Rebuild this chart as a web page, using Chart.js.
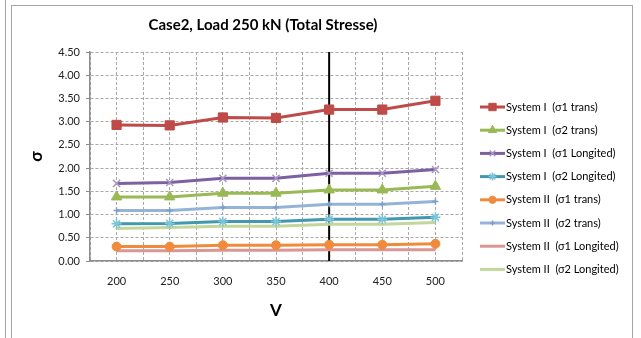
<!DOCTYPE html>
<html>
<head>
<meta charset="utf-8">
<script src="https://cdn.jsdelivr.net/npm/chart.js@4.4.1/dist/chart.umd.min.js"></script>
<style>
  html, body { margin: 0; padding: 0; background: #fff; }
  #wrap { position: relative; width: 641px; height: 338px; overflow: hidden; }
  #edge { position: absolute; left: 5px; top: 0; width: 1px; height: 338px; background: #a6a6a6; }
  #frame { position: absolute; left: 11px; top: 5px; width: 620px; height: 340px;
           border: 1px solid #a6a6a6; border-bottom: none; }
  canvas { position: absolute; left: 0; top: 0; }
</style>
</head>
<body>
<div id="wrap">
  <div id="edge"></div>
  <div id="frame"></div>
  <canvas id="stressChart" width="641" height="338"></canvas>
</div>
<script>
// x values (V)
const voltages = [200, 250, 300, 350, 400, 450, 500];

// stresses
const s1Sig1Trans = [2.93, 2.92, 3.09, 3.08, 3.26, 3.26, 3.45];
const s1Sig2Trans = [1.38, 1.38, 1.46, 1.46, 1.53, 1.53, 1.61];
const s1Sig1Long  = [1.67, 1.69, 1.78, 1.78, 1.89, 1.89, 1.97];
const s1Sig2Long  = [0.80, 0.81, 0.85, 0.85, 0.90, 0.90, 0.94];
const s2Sig1Trans = [0.31, 0.31, 0.34, 0.34, 0.35, 0.35, 0.37];
const s2Sig2Trans = [1.09, 1.09, 1.15, 1.15, 1.22, 1.22, 1.28];
const s2Sig1Long  = [0.22, 0.22, 0.23, 0.23, 0.24, 0.24, 0.24];
const s2Sig2Long  = [0.70, 0.72, 0.75, 0.75, 0.79, 0.79, 0.83];

const seriesLabels = [
  "System I  (σ1 trans)",
  "System I  (σ2 trans)",
  "System I  (σ1 Longited)",
  "System I  (σ2 Longited)",
  "System II  (σ1 trans)",
  "System II  (σ2 trans)",
  "System II  (σ1 Longited)",
  "System II  (σ2 Longited)"
];

// the black marker line at V = 400
const markerV = [400, 400];
const markerY = [0, 4.5];

const FONT = "Lato, 'Open Sans', sans-serif";

const toPoints = (arr) => voltages.map((v, i) => ({ x: v, y: arr[i] }));

const mk = (label, data, color, style, radius, markColor) => ({
  label: label,
  data: toPoints(data),
  borderColor: color,
  backgroundColor: markColor || color,
  pointBorderColor: markColor || color,
  pointBackgroundColor: markColor || color,
  pointStyle: style,
  pointRadius: radius,
  pointBorderWidth: style === "star" || style === "crossRot" || style === "cross" ? 1.5 : 1,
  borderWidth: 3,
  tension: 0,
  fill: false
});

const datasets = [
  mk(seriesLabels[0], s1Sig1Trans, "#be4b48", "rect", 6.5),
  mk(seriesLabels[1], s1Sig2Trans, "#98b954", "triangle", 6),
  mk(seriesLabels[2], s1Sig1Long, "#7d60a0", "crossRot", 5, "#a996c4"),
  mk(seriesLabels[3], s1Sig2Long, "#4198af", "star", 5, "#7cc4d8"),
  mk(seriesLabels[4], s2Sig1Trans, "#f08a3c", "circle", 4.5),
  mk(seriesLabels[5], s2Sig2Trans, "#95b3d7", "cross", 3, "#7f9fca"),
  mk(seriesLabels[6], s2Sig1Long, "#d99694", "circle", 0),
  mk(seriesLabels[7], s2Sig2Long, "#c3d69b", "circle", 0),
  {
    label: "marker",
    data: markerV.map((v, i) => ({ x: v, y: markerY[i] })),
    borderColor: "#000",
    borderWidth: 2,
    pointRadius: 0,
    fill: false
  }
];

// title + legend drawn in the Excel way
const excelDecor = {
  id: "excelDecor",
  afterDraw(chart) {
    const ctx = chart.ctx;
    ctx.save();
    ctx.fillStyle = "#000";
    ctx.font = "bold 15px " + FONT;
    ctx.textAlign = "center";
    ctx.textBaseline = "middle";
    ctx.fillText("Case2, Load 250 kN (Total Stresse)", 263, 25);

    ctx.font = "11px " + FONT;
    ctx.textAlign = "left";
    for (let i = 0; i < 8; i++) {
      const ds = chart.data.datasets[i];
      const y = 107 + i * 23.2;
      ctx.strokeStyle = ds.borderColor;
      ctx.lineWidth = 3;
      ctx.beginPath();
      ctx.moveTo(480, y);
      ctx.lineTo(505, y);
      ctx.stroke();
      if (ds.pointRadius > 0) {
        ctx.fillStyle = ds.pointBackgroundColor;
        ctx.strokeStyle = ds.pointBorderColor;
        ctx.lineWidth = ds.pointBorderWidth;
        Chart.helpers.drawPoint(ctx, {
          pointStyle: ds.pointStyle,
          radius: ds.pointRadius * 0.8,
          rotation: 0,
          borderWidth: ds.pointBorderWidth
        }, 492.5, y);
      }
      ctx.fillStyle = "#000";
      ctx.fillText(ds.label, 506, y);
    }
    ctx.restore();
  }
};

new Chart(document.getElementById("stressChart"), {
  type: "line",
  data: { datasets: datasets },
  options: {
    responsive: false,
    animation: false,
    layout: { padding: { left: 22, right: 179, top: 52, bottom: 17 } },
    plugins: {
      legend: { display: false },
      title: { display: false },
      tooltip: { enabled: false }
    },
    scales: {
      x: {
        type: "linear",
        min: 175,
        max: 525,
        afterFit: (scale) => { scale.height = 60; },
        ticks: {
          stepSize: 25,
          autoSkip: false,
          maxRotation: 0,
          padding: 14,
          color: "#222",
          font: { family: FONT, size: 11 },
          callback: (v) => (voltages.includes(v) ? String(v) : "")
        },
        grid: { color: "#a8a8a8", lineWidth: 1, drawTicks: false },
        border: { display: true, color: "#8c8c8c", width: 1.5, dash: [3, 2] },
        title: {
          display: true,
          text: "V",
          color: "#000",
          font: { family: FONT, size: 17, weight: "bold" },
          padding: 0
        }
      },
      y: {
        min: 0,
        max: 4.5,
        afterFit: (scale) => { scale.width = 68; },
        ticks: {
          stepSize: 0.5,
          padding: 6,
          color: "#222",
          font: { family: FONT, size: 11 },
          callback: (v) => v.toFixed(2)
        },
        grid: { color: "#a8a8a8", lineWidth: 1, tickLength: 4, tickColor: "#8c8c8c" },
        border: { display: true, color: "#8c8c8c", width: 1.5, dash: [3, 2] },
        title: {
          display: true,
          text: "σ",
          color: "#000",
          font: { family: FONT, size: 17, weight: "bold" },
          padding: { top: 4, bottom: 0 }
        }
      }
    }
  },
  plugins: [excelDecor]
});
</script>
</body>
</html>
